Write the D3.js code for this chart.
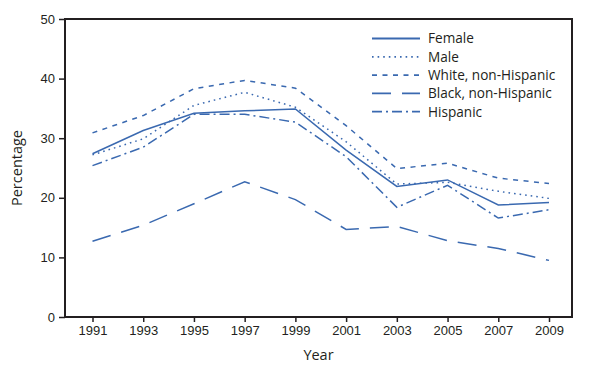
<!DOCTYPE html>
<html>
<head>
<meta charset="utf-8">
<script src="https://cdn.jsdelivr.net/npm/d3@7"></script>
<style>
  body { margin: 0; background: #fff; }
  svg { display: block; font-family: "Open Sans", "Noto Sans", sans-serif; }
  .tick text { font-size: 13px; fill: #231f20; }
  .lbl { font-size: 14.5px; fill: #231f20; }
  .leg { font-size: 13.6px; fill: #231f20; }
</style>
</head>
<body>
<svg id="chart" width="597" height="370"></svg>
<script>
// Years on the x axis
const years = [1991, 1993, 1995, 1997, 1999, 2001, 2003, 2005, 2007, 2009];

// Percentages
const female   = [27.4, 31.3, 34.2, 34.6, 34.9, 28.0, 21.9, 23.0, 18.8, 19.2];
const male     = [27.2, 29.9, 35.5, 37.7, 35.2, 29.4, 22.3, 22.6, 21.1, 19.9];
const white    = [30.9, 33.8, 38.3, 39.7, 38.4, 32.1, 24.9, 25.8, 23.3, 22.4];
const black    = [12.7, 15.4, 19.0, 22.7, 19.7, 14.7, 15.2, 12.8, 11.5,  9.5];
const hispanic = [25.4, 28.5, 34.0, 34.0, 32.7, 26.9, 18.4, 22.1, 16.6, 18.0];

const seriesNames = ['Female', 'Male', 'White, non-Hispanic', 'Black, non-Hispanic', 'Hispanic'];
const seriesVals  = [female, male, white, black, hispanic];
const dashes      = [null, '1.6,4', '5,5.5', '19,11', '10,4,2,4'];

const yTicks = [0, 10, 20, 30, 40, 50];
const blue = '#3a69b0';
const ink = '#231f20';

const svg = d3.select('#chart');
const m = { left: 65, right: 25, top: 19, bottom: 53 };
const W = 597, H = 370;

const x = d3.scalePoint().domain(years).range([92.5, 549]);
const y = d3.scaleLinear().domain([0, 50]).range([H - m.bottom, m.top]);

// frame
svg.append('rect')
  .attr('x', m.left).attr('y', m.top)
  .attr('width', W - m.right - m.left).attr('height', H - m.bottom - m.top)
  .attr('fill', 'none').attr('stroke', ink).attr('stroke-width', 2);

// axes
const gx = svg.append('g')
  .attr('transform', `translate(0,${H - m.bottom})`)
  .call(d3.axisBottom(x).tickSize(5).tickPadding(4));
const gy = svg.append('g')
  .attr('transform', `translate(${m.left},0)`)
  .call(d3.axisLeft(y).tickValues(yTicks).tickSize(6).tickPadding(4));
[gx, gy].forEach(g => {
  g.select('.domain').remove();
  g.selectAll('.tick line').attr('stroke', ink).attr('stroke-width', 1.5);
});

// lines
const line = d3.line().x((d, i) => x(years[i])).y(d => y(d));
seriesVals.forEach((vals, i) => {
  svg.append('path')
    .attr('d', line(vals))
    .attr('fill', 'none')
    .attr('stroke', blue)
    .attr('stroke-width', 1.5)
    .attr('stroke-dasharray', dashes[i]);
});

// legend
const leg = svg.append('g');
seriesNames.forEach((name, i) => {
  const yy = 38.5 + i * 18.3;
  leg.append('line')
    .attr('x1', 372).attr('x2', 420).attr('y1', yy).attr('y2', yy)
    .attr('stroke', blue).attr('stroke-width', 1.8)
    .attr('stroke-dasharray', dashes[i]);
  leg.append('text').attr('class', 'leg')
    .attr('x', 428).attr('y', yy + 4.8).text(name);
});

// axis titles
svg.append('text').attr('class', 'lbl')
  .attr('transform', `translate(22,${(m.top + H - m.bottom) / 2}) rotate(-90)`)
  .attr('text-anchor', 'middle').text('Percentage');
svg.append('text').attr('class', 'lbl')
  .attr('x', (m.left + W - m.right) / 2).attr('y', 360)
  .attr('text-anchor', 'middle').text('Year');
</script>
</body>
</html>
